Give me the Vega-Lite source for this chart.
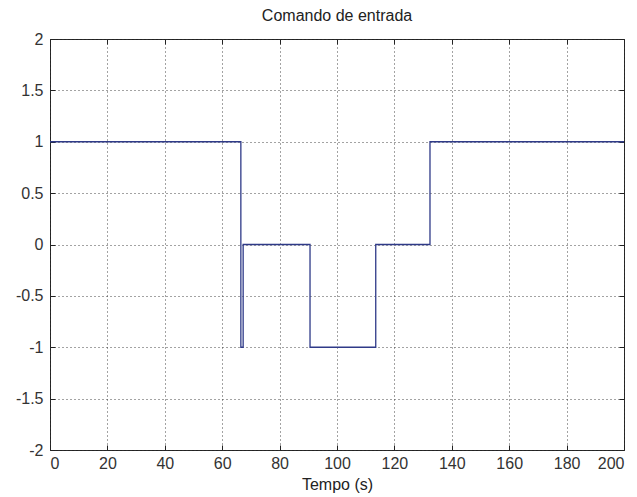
{
  "$schema": "https://vega.github.io/schema/vega-lite/v6.json",
  "autosize": "none",
  "width": 574,
  "height": 411,
  "padding": {"left": 50, "top": 39, "right": 13, "bottom": 47},
  "background": "white",
  "title": {
    "text": "Comando de entrada",
    "font": "Liberation Sans",
    "fontSize": 16,
    "fontWeight": "normal",
    "color": "#222",
    "offset": 7
  },
  "config": {
    "view": {"stroke": "#222", "strokeWidth": 1},
    "axis": {
      "labelFont": "Liberation Sans",
      "labelFontSize": 16,
      "labelColor": "#333",
      "titleFont": "Liberation Sans",
      "titleFontSize": 16,
      "titleFontWeight": "normal",
      "titleColor": "#222",
      "domain": false,
      "tickColor": "#222",
      "tickSize": -5,
      "gridColor": "#333",
      "gridDash": [1, 3],
      "gridOpacity": 0.9,
      "gridWidth": 1
    }
  },
  "data": {
    "values": [
      {"t": 0, "u": 1},
      {"t": 66.5, "u": -1},
      {"t": 67.3, "u": 0},
      {"t": 90.6, "u": -1},
      {"t": 113.5, "u": 0},
      {"t": 132.4, "u": 1},
      {"t": 200, "u": 1}
    ]
  },
  "layer": [
    {
      "mark": {"type": "line", "interpolate": "step-after", "color": "#2f3a88", "strokeWidth": 1.3},
      "encoding": {
        "x": {
          "field": "t", "type": "quantitative",
          "scale": {"domain": [0, 200], "nice": false},
          "axis": {"values": [0, 20, 40, 60, 80, 100, 120, 140, 160, 180, 200], "labelExpr": "'' + datum.value", "title": "Tempo (s)", "titlePadding": 5, "labelPadding": 10}
        },
        "y": {
          "field": "u", "type": "quantitative",
          "scale": {"domain": [-2, 2], "nice": false},
          "axis": {"values": [-2, -1.5, -1, -0.5, 0, 0.5, 1, 1.5, 2], "labelExpr": "'' + datum.value", "title": null, "labelPadding": 12}
        }
      }
    },
    {
      "mark": {"type": "line", "opacity": 0},
      "encoding": {
        "x": {
          "field": "t", "type": "quantitative",
          "scale": {"domain": [0, 200], "nice": false},
          "axis": {"orient": "top", "values": [0, 20, 40, 60, 80, 100, 120, 140, 160, 180, 200], "labels": false, "grid": false, "title": null}
        },
        "y": {
          "field": "u", "type": "quantitative",
          "scale": {"domain": [-2, 2], "nice": false},
          "axis": {"orient": "right", "values": [-2, -1.5, -1, -0.5, 0, 0.5, 1, 1.5, 2], "labels": false, "grid": false, "title": null}
        }
      }
    }
  ],
  "resolve": {"axis": {"x": "independent", "y": "independent"}}
}
